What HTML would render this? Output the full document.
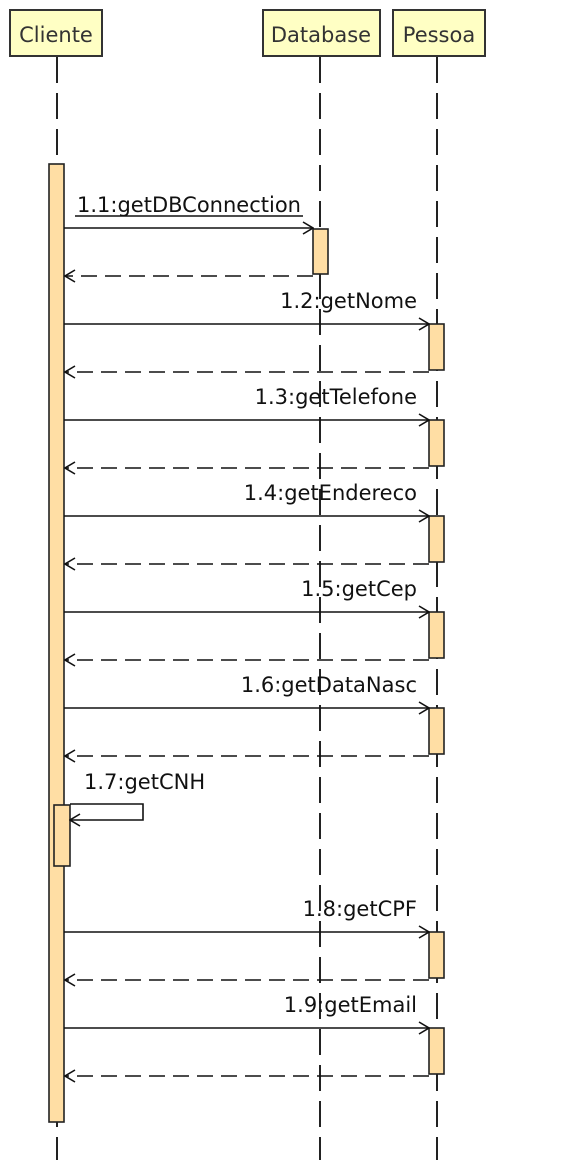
<!DOCTYPE html>
<html><head><meta charset="utf-8"><style>
html,body{margin:0;padding:0;background:#fff;width:588px;height:1160px;overflow:hidden}
svg text{font-family:"DejaVu Sans","Liberation Sans",sans-serif;font-size:21px;fill:#111}
</style></head><body>
<svg width="588" height="1160" xmlns="http://www.w3.org/2000/svg">
<defs>
<marker id="a" markerWidth="12" markerHeight="14" refX="11" refY="7" orient="auto" markerUnits="userSpaceOnUse">
<path d="M1,1 L11,7 L1,13" fill="none" stroke="#111" stroke-width="1.6"/></marker>
</defs>
<g stroke="#222" stroke-width="2" stroke-dasharray="26,10" fill="none">
<line x1="57" y1="57" x2="57" y2="1160"/>
<line x1="320" y1="57" x2="320" y2="1160"/>
<line x1="437" y1="57" x2="437" y2="1160"/>
</g>
<g fill="#ffffc4" stroke="#333" stroke-width="2">
<rect x="10" y="10" width="92" height="46"/>
<rect x="263" y="10" width="117" height="46"/>
<rect x="393" y="10" width="92" height="46"/>
</g>
<text x="56" y="42" text-anchor="middle" style="fill:#333">Cliente</text>
<text x="321" y="42" text-anchor="middle" style="fill:#333">Database</text>
<text x="439" y="42" text-anchor="middle" style="fill:#333">Pessoa</text>
<g fill="#ffdea4" stroke="#222" stroke-width="1.6">
<rect x="49" y="164" width="15" height="958"/>
<rect x="313" y="229" width="15" height="45"/>
<rect x="429" y="324" width="15" height="46"/>
<rect x="429" y="420" width="15" height="46"/>
<rect x="429" y="516" width="15" height="46"/>
<rect x="429" y="612" width="15" height="46"/>
<rect x="429" y="708" width="15" height="46"/>
<rect x="54" y="805" width="16" height="61"/>
<rect x="429" y="932" width="15" height="46"/>
<rect x="429" y="1028" width="15" height="46"/>
</g>
<g stroke="#111" stroke-width="1.6" fill="none" marker-end="url(#a)">
<line x1="64" y1="228" x2="313" y2="228"/>
<line x1="64" y1="324" x2="429" y2="324"/>
<line x1="64" y1="420" x2="429" y2="420"/>
<line x1="64" y1="516" x2="429" y2="516"/>
<line x1="64" y1="612" x2="429" y2="612"/>
<line x1="64" y1="708" x2="429" y2="708"/>
<polyline points="70,804 143,804 143,820 70,820"/>
<line x1="64" y1="932" x2="429" y2="932"/>
<line x1="64" y1="1028" x2="429" y2="1028"/>
</g>
<g stroke="#111" stroke-width="1.6" fill="none" stroke-dasharray="16,8" marker-end="url(#a)">
<line x1="313" y1="276" x2="65" y2="276"/>
<line x1="429" y1="372" x2="65" y2="372"/>
<line x1="429" y1="468" x2="65" y2="468"/>
<line x1="429" y1="564" x2="65" y2="564"/>
<line x1="429" y1="660" x2="65" y2="660"/>
<line x1="429" y1="756" x2="65" y2="756"/>
<line x1="429" y1="980" x2="65" y2="980"/>
<line x1="429" y1="1076" x2="65" y2="1076"/>
</g>
<text x="77" y="212" textLength="224" lengthAdjust="spacingAndGlyphs">1.1:getDBConnection</text>
<line x1="75" y1="216" x2="303" y2="216" stroke="#111" stroke-width="1.4"/>
<g text-anchor="end">
<text x="417" y="308">1.2:getNome</text>
<text x="417" y="404">1.3:getTelefone</text>
<text x="417" y="500">1.4:getEndereco</text>
<text x="417" y="596">1.5:getCep</text>
<text x="417" y="692">1.6:getDataNasc</text>
<text x="417" y="916">1.8:getCPF</text>
<text x="417" y="1012">1.9:getEmail</text>
</g>
<text x="84" y="789">1.7:getCNH</text>
</svg>
</body></html>
